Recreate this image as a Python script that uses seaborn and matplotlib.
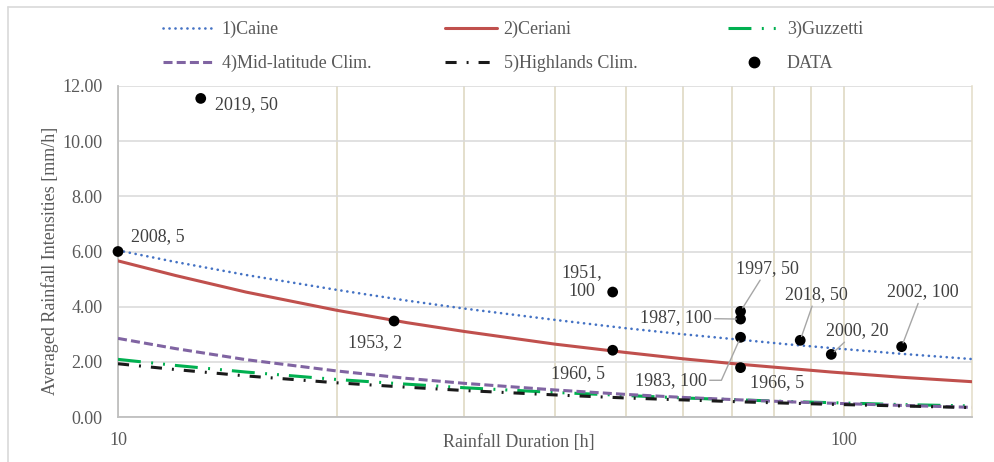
import matplotlib
matplotlib.use("Agg")
import matplotlib.pyplot as plt
from matplotlib.lines import Line2D
from matplotlib.ticker import FixedLocator, NullFormatter
import pandas as pd
import seaborn as sns

# Threshold curves: averaged rainfall intensity [mm/h] against duration [h]
durations = [10, 12, 15, 20, 25, 30, 40, 50, 60, 72, 84, 96, 120, 150]
caine = [6.04, 5.62, 5.15, 4.61, 4.22, 3.93, 3.52, 3.22, 3.00, 2.80, 2.63, 2.50, 2.29, 2.10]
ceriani = [5.66, 5.13, 4.53, 3.87, 3.42, 3.10, 2.64, 2.34, 2.11, 1.91, 1.76, 1.63, 1.44, 1.28]
guzzetti = [2.09, 1.87, 1.63, 1.36, 1.19, 1.06, 0.89, 0.78, 0.69, 0.62, 0.56, 0.52, 0.45, 0.40]
mid_latitude = [2.85, 2.48, 2.08, 1.67, 1.40, 1.22, 0.98, 0.82, 0.71, 0.62, 0.55, 0.50, 0.42, 0.35]
highlands = [1.93, 1.72, 1.49, 1.24, 1.08, 0.96, 0.80, 0.69, 0.62, 0.55, 0.50, 0.46, 0.40, 0.34]

series_names = ["1)Caine", "2)Ceriani", "3)Guzzetti", "4)Mid-latitude Clim.", "5)Highlands Clim."]

# Observed events (year, return period)
event_duration = [10, 13, 24, 48, 48, 72, 72, 72, 72, 87, 96, 120]
event_intensity = [6.00, 11.55, 3.48, 4.53, 2.42, 3.83, 3.55, 2.89, 1.79, 2.78, 2.27, 2.55]
event_label = ["2008, 5", "2019, 50", "1953, 2", "1951,\n100", "1960, 5", "1997, 50",
               "1987, 100", "1983, 100", "1966, 5", "2018, 50", "2000, 20", "2002, 100"]

y_ticks = [0, 2, 4, 6, 8, 10, 12]

sns.set_style("white")
plt.rcParams["font.family"] = ["Liberation Serif", "DejaVu Serif"]
plt.rcParams["lines.scale_dashes"] = False

TXT = "#595959"
LBL = "#404040"

fig = plt.figure(figsize=(9.95, 4.62), dpi=100)
ax = fig.add_axes([118 / 995, 1 - 417 / 462, 854 / 995, 331 / 462])

styles = {
    "1)Caine": dict(color="#4472C4", lw=1.9, ls=(0, (0.1, 4.2)), dash_capstyle="round"),
    "2)Ceriani": dict(color="#C0504D", lw=2.2, ls="-"),
    "3)Guzzetti": dict(color="#00B050", lw=2.2, ls=(0, (16.5, 7.5, 1.4, 7.2, 1.4, 7.2)), dash_capstyle="butt"),
    "4)Mid-latitude Clim.": dict(color="#8064A2", lw=2.2, ls=(0, (6.5, 3.0)), dash_capstyle="butt"),
    "5)Highlands Clim.": dict(color="#1A1A1A", lw=2.2, ls=(0, (8.0, 7.2, 1.4, 7.2)), dash_capstyle="butt"),
}

curves = pd.DataFrame({
    "duration": durations * 5,
    "intensity": caine + ceriani + guzzetti + mid_latitude + highlands,
    "series": [n for n in series_names for _ in durations],
})

for name in series_names:
    sub = curves[curves["series"] == name]
    st = styles[name]
    sns.lineplot(data=sub, x="duration", y="intensity", ax=ax, color=st["color"],
                 linewidth=st["lw"], linestyle=st["ls"], legend=False,
                 dash_capstyle=st.get("dash_capstyle", "butt"), zorder=3)

events = pd.DataFrame({"duration": event_duration, "intensity": event_intensity})
sns.scatterplot(data=events, x="duration", y="intensity", ax=ax, color="black",
                s=60, edgecolor="none", zorder=5, legend=False)
ax.collections[-1].set_clip_on(False)

# Event labels: offsets in pixels, leader line connection (None = no leader)
straight = "arc3"
label_layout = [
    ((40, 15), None), ((46, -6), None), ((-19, -22), None), ((-31, 10), None),
    ((-35, -23), None), ((27, 43), straight), ((-65, 1), straight),
    ((-70, -43), "angle,angleA=0,angleB=66,rad=0"),
    ((37, -15), None), ((16, 46), straight), ((26, 24), straight), ((21, 55), straight),
]
for x, y, txt, (off, conn) in zip(event_duration, event_intensity, event_label, label_layout):
    kw = {}
    if conn is not None:
        kw["arrowprops"] = dict(arrowstyle="-", color="#A6A6A6", lw=1, shrinkA=0, shrinkB=3,
                                connectionstyle=conn,
                                relpos=(1.0, 0.5) if conn.startswith("angle") else (0.5, 0.5))
    ax.annotate(txt, xy=(x, y), xytext=off, textcoords="offset pixels", ha="center",
                va="center", fontsize=13, color=LBL, multialignment="center",
                linespacing=1.15, zorder=6, **kw)

ax.set_xscale("log")
ax.set_xlim(10, 150)
ax.set_ylim(0, 12)
ax.xaxis.set_major_locator(FixedLocator([10, 100]))
ax.xaxis.set_minor_locator(FixedLocator([20, 30, 40, 50, 60, 70, 80, 90]))
ax.xaxis.set_minor_formatter(NullFormatter())
ax.set_xticklabels(["10", "100"])
ax.set_yticks(y_ticks)
ax.set_yticklabels([f"{v:.2f}" for v in y_ticks])
ax.tick_params(axis="both", which="both", length=0, labelsize=13, labelcolor=TXT)
ax.tick_params(axis="y", pad=11)
ax.tick_params(axis="x", pad=11)

ax.grid(True, axis="y", color="#D9D9D9", lw=1.1, zorder=0)
ax.grid(True, axis="x", which="both", color="#DDD6BF", lw=1.1, zorder=0)
ax.set_axisbelow(True)

ax.spines["top"].set_visible(False)
ax.spines["left"].set_color("#BFBFBF")
ax.spines["left"].set_linewidth(1.3)
ax.spines["bottom"].set_color("#BFBFBF")
ax.spines["bottom"].set_linewidth(1.3)
ax.spines["right"].set_color("#E3DDC8")
ax.spines["right"].set_linewidth(1.1)

ax.set_xlabel("Rainfall Duration [h]", fontsize=13, color=TXT, va="center")
ax.xaxis.set_label_coords((519 - 118) / 854, (417 - 443) / 331)
ax.set_ylabel("Averaged Rainfall Intensities [mm/h]", fontsize=13, color=TXT, va="center")
ax.yaxis.set_label_coords((50 - 118) / 854, (417 - 261) / 331)


def handle(name):
    st = styles[name]
    return Line2D([], [], color=st["color"], lw=st["lw"], ls=st["ls"],
                  dash_capstyle=st.get("dash_capstyle", "butt"))


data_handle = Line2D([], [], color="black", marker="o", ls="none", markersize=7.5)
columns = [
    (163, [handle("1)Caine"), handle("4)Mid-latitude Clim.")], ["1)Caine", "4)Mid-latitude Clim."]),
    (445, [handle("2)Ceriani"), handle("5)Highlands Clim.")], ["2)Ceriani", "5)Highlands Clim."]),
    (728, [handle("3)Guzzetti"), data_handle], ["3)Guzzetti", "DATA"]),
]
for x0, hs, ls_ in columns:
    fig.legend(hs, ls_, loc="upper left", bbox_to_anchor=(x0 / 995, 1 - 21 / 462),
               frameon=False, fontsize=13, handlelength=2.9, handletextpad=0.35,
               borderpad=0, borderaxespad=0, labelspacing=0.92, labelcolor=TXT)

# Outer chart border
fig.add_artist(Line2D([8 / 995, 1], [1 - 7 / 462, 1 - 7 / 462], transform=fig.transFigure,
                      color="#D9D9D9", lw=1.2))
fig.add_artist(Line2D([8 / 995, 8 / 995], [0, 1 - 7 / 462], transform=fig.transFigure,
                      color="#D9D9D9", lw=1.2))

fig.savefig("out.png", dpi=100)
